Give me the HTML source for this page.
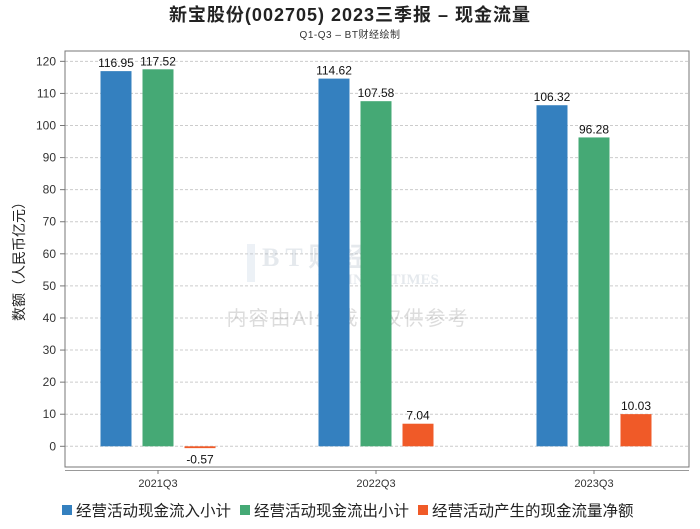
<!DOCTYPE html>
<html><head><meta charset="utf-8"><style>
body{margin:0;background:#fff;font-family:"Liberation Sans","Noto Sans CJK SC",sans-serif}
</style></head><body>
<svg id="chart" width="700" height="524" xmlns="http://www.w3.org/2000/svg" font-family="Liberation Sans, Noto Sans CJK SC, sans-serif">
<text x="350" y="21" text-anchor="middle" font-size="18" font-weight="bold" fill="#222" letter-spacing="1">新宝股份(002705) 2023三季报 – 现金流量</text>
<text x="350" y="38" text-anchor="middle" font-size="10" fill="#333" letter-spacing="0.5">Q1-Q3 – BT财经绘制</text>
<g id="grid"></g>
<rect x="65" y="51" width="624" height="416" fill="none" stroke="#777" stroke-width="1"/>
<line x1="65" y1="470.5" x2="689" y2="470.5" stroke="#999"/>
<g opacity="0.25">
<rect x="247" y="244" width="8" height="38" fill="#b8c8dc"/>
<text x="262" y="266" font-family="Liberation Serif, serif" font-size="26" font-weight="bold" fill="#9ab" letter-spacing="6">BT财经</text>
<text x="318" y="284" font-family="Liberation Serif, serif" font-size="15" font-weight="bold" fill="#9ab">BUSINESSTIMES</text>
<text x="348" y="325" text-anchor="middle" font-size="20" fill="#777" letter-spacing="2">内容由AI生成，仅供参考</text>
</g>
<text transform="translate(24,258) rotate(-90)" text-anchor="middle" font-size="14" fill="#222">数额（人民币亿元）</text>
<g id="bars"></g>
<g id="legend" font-size="15.5" fill="#222">
<rect x="62" y="505" width="10" height="10" fill="#3480bf"/>
<text x="76" y="516">经营活动现金流入小计</text>
<rect x="240" y="505" width="10" height="10" fill="#45a975"/>
<text x="254" y="516">经营活动现金流出小计</text>
<rect x="418" y="505" width="10" height="10" fill="#f05a28"/>
<text x="432" y="516">经营活动产生的现金流量净额</text>
</g>
</svg>
<script>
const categories = ["2021Q3","2022Q3","2023Q3"];
const inflow = [116.95,114.62,106.32];
const outflow = [117.52,107.58,96.28];
const netflow = [-0.57,7.04,10.03];
const yTicks = [0,10,20,30,40,50,60,70,80,90,100,110,120];
const NS="http://www.w3.org/2000/svg";
const y = v => 446.3 - v*3.208;
const xc = i => 158 + i*218;
const grid=document.getElementById('grid'), bars=document.getElementById('bars');
function mk(tag,attrs,parent){const e=document.createElementNS(NS,tag);for(const k in attrs)e.setAttribute(k,attrs[k]);parent.appendChild(e);return e;}
yTicks.forEach(t=>{
  const l=mk('line',{x1:65,x2:689,y1:y(t),y2:y(t),stroke:'#ccc','stroke-dasharray':'3,2'},grid);
  
  
  const tk=mk('line',{x1:60,x2:65,y1:y(t),y2:y(t),stroke:'#777'},grid);
  
  
  const tx=mk('text',{x:56,y:y(t)+4,'text-anchor':'end','font-size':12,fill:'#333'},grid);
  tx.textContent=t;
  
  
});
const series=[[inflow,'#3480bf',-42,'inflow'],[outflow,'#45a975',0,'outflow'],[netflow,'#f05a28',42,'net']];
categories.forEach((c,i)=>{
  const tk=mk('line',{x1:xc(i),x2:xc(i),y1:470,y2:474,stroke:'#777'},bars);
  
  
  const lb=mk('text',{x:xc(i),y:487,'text-anchor':'middle','font-size':11,fill:'#333'},bars);
  lb.textContent=c;
  
  
  series.forEach(([arr,col,off,nm])=>{
    const v=arr[i], top=Math.min(y(v),y(0)), h=Math.max(Math.abs(y(v)-y(0)),1.5);
    const r=mk('rect',{x:xc(i)+off-15.5,y:top,width:31,height:h,fill:col},bars);
    
    
    const t=mk('text',{x:xc(i)+off,y:v>=0?y(v)-4:y(0)+17,'text-anchor':'middle','font-size':12,fill:'#111'},bars);
    t.textContent=v.toFixed(2);
    
    
  });
});
</script>
</body></html>
